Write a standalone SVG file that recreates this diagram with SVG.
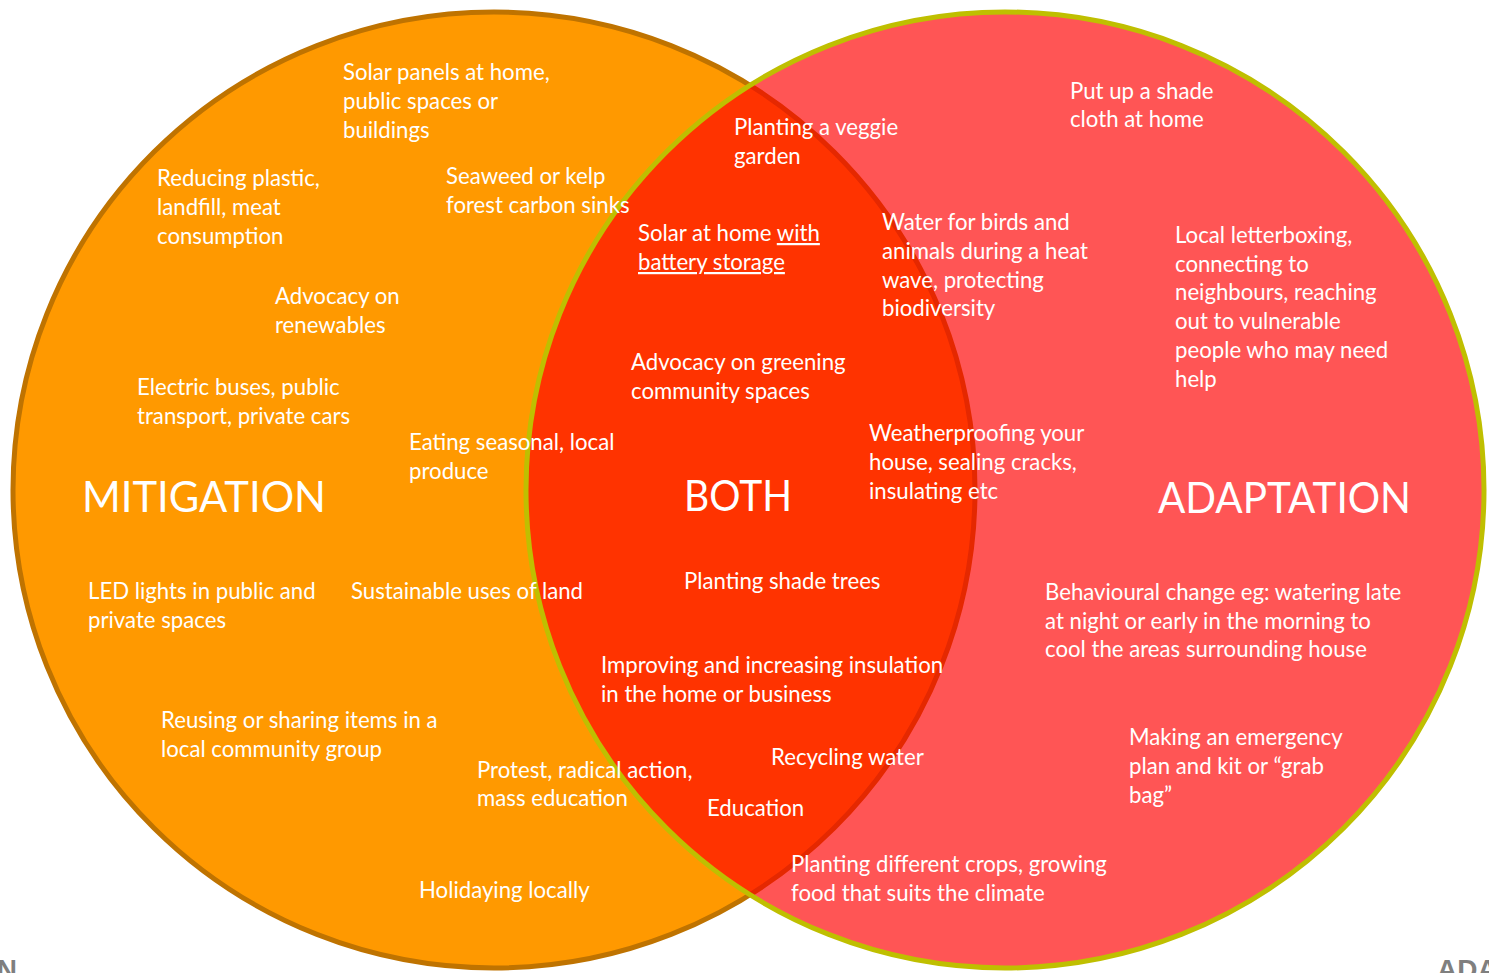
<svg xmlns="http://www.w3.org/2000/svg" width="1489" height="973" viewBox="0 0 1489 973">
<style>
.t{fill:#ffffff;font-family:Lato,"Open Sans",sans-serif;font-size:22.2px}
.big{fill:#ffffff;font-family:Lato,"Open Sans",sans-serif;font-size:42px}
.g{fill:#7f7f7f;font-family:"Liberation Sans",Arial,sans-serif;font-size:28px;font-weight:bold}
.u{text-decoration:underline}
</style>
<defs>
<clipPath id="rc"><ellipse cx="1005" cy="490" rx="479" ry="478"/></clipPath>
</defs>
<rect width="1489" height="973" fill="#ffffff"/>
<g id="circles">
<ellipse id="mitigation-circle" cx="494" cy="490" rx="481" ry="478" fill="#ff9900" stroke="#bf7300" stroke-width="5"/>
<ellipse id="adaptation-circle" cx="1005" cy="490" rx="479" ry="478" fill="#ff5555"/>
<g clip-path="url(#rc)">
<ellipse id="both-lens" cx="494" cy="490" rx="481" ry="478" fill="#ff3300" stroke="#e52800" stroke-width="5"/>
</g>
<ellipse cx="1005" cy="490" rx="479" ry="478" fill="none" stroke="#bfbf00" stroke-width="5"/>
</g>
<g id="mitigation">
<text class="big" x="82" y="512" textLength="244" lengthAdjust="spacingAndGlyphs">MITIGATION</text>
<text class="t" x="343" y="80">Solar panels at home,<tspan x="343" dy="29">public spaces or</tspan><tspan x="343" dy="29">buildings</tspan></text>
<text class="t" x="157" y="186">Reducing plastic,<tspan x="157" dy="29">landfill, meat</tspan><tspan x="157" dy="29">consumption</tspan></text>
<text class="t" x="446" y="184">Seaweed or kelp<tspan x="446" dy="29">forest carbon sinks</tspan></text>
<text class="t" x="275" y="304">Advocacy on<tspan x="275" dy="29">renewables</tspan></text>
<text class="t" x="137" y="395">Electric buses, public<tspan x="137" dy="29">transport, private cars</tspan></text>
<text class="t" x="409" y="450">Eating seasonal, local<tspan x="409" dy="29">produce</tspan></text>
<text class="t" x="88" y="599">LED lights in public and<tspan x="88" dy="29">private spaces</tspan></text>
<text class="t" x="351" y="599">Sustainable uses of land</text>
<text class="t" x="161" y="728">Reusing or sharing items in a<tspan x="161" dy="29">local community group</tspan></text>
<text class="t" x="477" y="778">Protest, radical action,<tspan x="477" dy="28">mass education</tspan></text>
<text class="t" x="419" y="898">Holidaying locally</text>
</g>
<g id="both">
<text class="big" x="684" y="511" textLength="108" lengthAdjust="spacingAndGlyphs">BOTH</text>
<text class="t" x="734" y="135">Planting a veggie<tspan x="734" dy="29">garden</tspan></text>
<text class="t" x="638" y="241">Solar at home <tspan class="u">with</tspan><tspan class="u" x="638" dy="29">battery storage</tspan></text>
<text class="t" x="631" y="370">Advocacy on greening<tspan x="631" dy="29">community spaces</tspan></text>
<text class="t" x="684" y="589">Planting shade trees</text>
<text class="t" x="601" y="673">Improving and increasing insulation<tspan x="601" dy="29">in the home or business</tspan></text>
<text class="t" x="771" y="765">Recycling water</text>
<text class="t" x="707" y="816">Education</text>
<text class="t" x="791" y="872">Planting different crops, growing<tspan x="791" dy="29">food that suits the climate</tspan></text>
</g>
<g id="adaptation">
<text class="big" x="1158" y="513" textLength="253" lengthAdjust="spacingAndGlyphs">ADAPTATION</text>
<text class="t" x="1070" y="99">Put up a shade<tspan x="1070" dy="28">cloth at home</tspan></text>
<text class="t" x="882" y="230">Water for birds and<tspan x="882" dy="29">animals during a heat</tspan><tspan x="882" dy="29">wave, protecting</tspan><tspan x="882" dy="28">biodiversity</tspan></text>
<text class="t" x="1175" y="243">Local letterboxing,<tspan x="1175" dy="29">connecting to</tspan><tspan x="1175" dy="28">neighbours, reaching</tspan><tspan x="1175" dy="29">out to vulnerable</tspan><tspan x="1175" dy="29">people who may need</tspan><tspan x="1175" dy="29">help</tspan></text>
<text class="t" x="869" y="441">Weatherproofing your<tspan x="869" dy="29">house, sealing cracks,</tspan><tspan x="869" dy="29">insulating etc</tspan></text>
<text class="t" x="1045" y="600">Behavioural change eg: watering late<tspan x="1045" dy="29">at night or early in the morning to</tspan><tspan x="1045" dy="28">cool the areas surrounding house</tspan></text>
<text class="t" x="1129" y="745">Making an emergency<tspan x="1129" dy="29">plan and kit or “grab</tspan><tspan x="1129" dy="29">bag”</tspan></text>
</g>
<g id="edge-labels">
<text class="g" x="17" y="979" text-anchor="end">N</text>
<text class="g" x="1437" y="979">ADA</text>
</g>
</svg>
